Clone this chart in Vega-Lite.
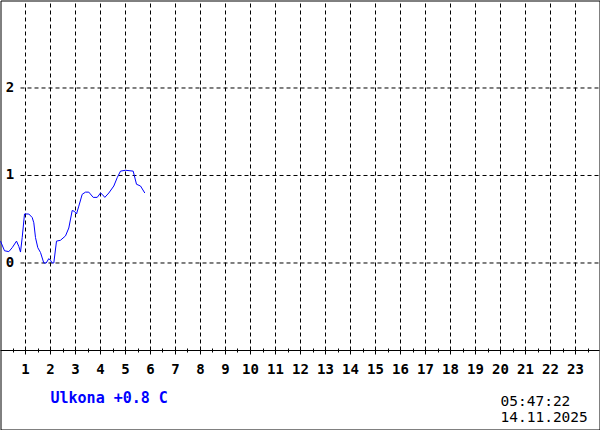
{
  "$schema": "https://vega.github.io/schema/vega-lite/v6.json",
  "width": 599,
  "height": 429,
  "autosize": {"type": "none"},
  "padding": {"left": 0.5, "top": 0.5, "right": 0.5, "bottom": 0.5},
  "background": "white",
  "config": {
    "view": {"stroke": "black", "strokeWidth": 1},
    "axis": {"translate": 0},
    "font": "DejaVu Sans Mono"
  },
  "datasets": {
    "temp": [
      {"h": 0, "v": 0.25}, {"h": 0.16, "v": 0.14}, {"h": 0.332, "v": 0.13}, {"h": 0.468, "v": 0.175},
      {"h": 0.64, "v": 0.25}, {"h": 0.732, "v": 0.19}, {"h": 0.8, "v": 0.125}, {"h": 0.868, "v": 0.29},
      {"h": 0.96, "v": 0.56}, {"h": 1.132, "v": 0.56}, {"h": 1.268, "v": 0.52}, {"h": 1.332, "v": 0.46},
      {"h": 1.4, "v": 0.29}, {"h": 1.492, "v": 0.175}, {"h": 1.6, "v": 0.12}, {"h": 1.732, "v": 0.0},
      {"h": 1.828, "v": 0.0}, {"h": 1.932, "v": 0.05}, {"h": 2.0, "v": 0.03}, {"h": 2.068, "v": 0.0},
      {"h": 2.132, "v": 0.0}, {"h": 2.24, "v": 0.25}, {"h": 2.4, "v": 0.26}, {"h": 2.6, "v": 0.31},
      {"h": 2.732, "v": 0.4}, {"h": 2.868, "v": 0.6}, {"h": 2.96, "v": 0.59}, {"h": 3.04, "v": 0.56},
      {"h": 3.132, "v": 0.65}, {"h": 3.268, "v": 0.785}, {"h": 3.4, "v": 0.81}, {"h": 3.532, "v": 0.81},
      {"h": 3.708, "v": 0.75}, {"h": 3.868, "v": 0.75}, {"h": 4.0, "v": 0.8}, {"h": 4.068, "v": 0.785},
      {"h": 4.172, "v": 0.75}, {"h": 4.332, "v": 0.8}, {"h": 4.532, "v": 0.88}, {"h": 4.668, "v": 0.975},
      {"h": 4.8, "v": 1.05}, {"h": 5.0, "v": 1.06}, {"h": 5.308, "v": 1.05}, {"h": 5.44, "v": 0.9},
      {"h": 5.6, "v": 0.88}, {"h": 5.772, "v": 0.8}
    ],
    "hgrid": [{"v": 0}, {"v": 1}, {"v": 2}],
    "vgrid": [
      {"h": 1}, {"h": 2}, {"h": 3}, {"h": 4}, {"h": 5}, {"h": 6}, {"h": 7}, {"h": 8},
      {"h": 9}, {"h": 10}, {"h": 11}, {"h": 12}, {"h": 13}, {"h": 14}, {"h": 15}, {"h": 16},
      {"h": 17}, {"h": 18}, {"h": 19}, {"h": 20}, {"h": 21}, {"h": 22}, {"h": 23}
    ],
    "one": [{}]
  },
  "resolve": {"axis": {"x": "independent"}},
  "layer": [
    {
      "data": {"name": "hgrid"},
      "mark": {"type": "rule", "color": "black", "strokeWidth": 1, "strokeDash": [4, 3]},
      "encoding": {
        "y": {
          "field": "v", "type": "quantitative",
          "scale": {"domain": [-1.90286, 3], "nice": false, "zero": false},
          "axis": null
        },
        "x": {
          "datum": 0.8, "type": "quantitative",
          "scale": {"domain": [0, 23.96], "nice": false, "zero": false},
          "axis": {
            "orient": "bottom", "offset": -79,
            "values": [0.5, 1, 1.5, 2, 2.5, 3, 3.5, 4, 4.5, 5, 5.5, 6, 6.5, 7, 7.5, 8, 8.5, 9, 9.5, 10, 10.5, 11, 11.5, 12, 12.5, 13, 13.5, 14, 14.5, 15, 15.5, 16, 16.5, 17, 17.5, 18, 18.5, 19, 19.5, 20, 20.5, 21, 21.5, 22, 22.5, 23, 23.5],
            "grid": false, "domain": true, "domainColor": "black", "domainWidth": 1,
            "ticks": true, "tickColor": "black", "tickWidth": 1,
            "tickSize": {"condition": {"test": "datum.value % 1 === 0", "value": 4}, "value": 2},
            "labelExpr": "datum.value % 1 === 0 ? format(datum.value, 'd') : ''",
            "labelFont": "DejaVu Sans Mono", "labelFontSize": 14, "labelFontWeight": "bold", "labelColor": "black",
            "labelPadding": 8, "labelOverlap": false, "labelFlush": false, "labelBound": false,
            "title": null
          }
        },
        "x2": {"datum": 23.96}
      }
    },
    {
      "data": {"name": "hgrid"},
      "mark": {"type": "text", "font": "DejaVu Sans Mono", "fontSize": 14, "fontWeight": "bold", "color": "black", "align": "center", "baseline": "middle"},
      "encoding": {
        "y": {"field": "v", "type": "quantitative", "scale": {"domain": [-1.90286, 3], "nice": false, "zero": false}, "axis": null},
        "x": {"datum": 0.38, "type": "quantitative", "scale": {"domain": [0, 23.96], "nice": false, "zero": false}, "axis": null},
        "text": {"field": "v", "type": "quantitative", "format": "d"}
      }
    },
    {
      "data": {"name": "vgrid"},
      "mark": {"type": "rule", "color": "black", "strokeWidth": 1, "strokeDash": [4, 3]},
      "encoding": {
        "x": {
          "field": "h", "type": "quantitative",
          "scale": {"domain": [0, 23.96], "nice": false, "zero": false},
          "axis": {
            "orient": "top", "offset": -350,
            "values": [0.5, 1, 1.5, 2, 2.5, 3, 3.5, 4, 4.5, 5, 5.5, 6, 6.5, 7, 7.5, 8, 8.5, 9, 9.5, 10, 10.5, 11, 11.5, 12, 12.5, 13, 13.5, 14, 14.5, 15, 15.5, 16, 16.5, 17, 17.5, 18, 18.5, 19, 19.5, 20, 20.5, 21, 21.5, 22, 22.5, 23, 23.5],
            "grid": false, "domain": false, "labels": false,
            "ticks": true, "tickColor": "black", "tickWidth": 1,
            "tickSize": {"condition": {"test": "datum.value % 1 === 0", "value": 3}, "value": 2},
            "title": null
          }
        },
        "y": {"datum": -1, "type": "quantitative", "scale": {"domain": [-1.90286, 3], "nice": false, "zero": false}, "axis": null},
        "y2": {"datum": 3}
      }
    },
    {
      "data": {"name": "temp"},
      "mark": {"type": "line", "color": "#0000ff", "strokeWidth": 1},
      "encoding": {
        "x": {"field": "h", "type": "quantitative", "scale": {"domain": [0, 23.96], "nice": false, "zero": false}, "axis": null},
        "y": {"field": "v", "type": "quantitative", "scale": {"domain": [-1.90286, 3], "nice": false, "zero": false}, "axis": null}
      }
    },
    {
      "data": {"name": "one"},
      "mark": {"type": "text", "font": "DejaVu Sans Mono", "fontSize": 15, "fontWeight": "bold", "color": "#0000ff", "align": "left", "baseline": "middle"},
      "encoding": {
        "x": {"datum": 2.0, "type": "quantitative", "scale": {"domain": [0, 23.96], "nice": false, "zero": false}, "axis": null},
        "y": {"datum": -1.543, "type": "quantitative", "scale": {"domain": [-1.90286, 3], "nice": false, "zero": false}, "axis": null},
        "text": {"value": "Ulkona +0.8 C"}
      }
    },
    {
      "data": {"name": "one"},
      "mark": {"type": "text", "font": "DejaVu Sans Mono", "fontSize": 14.5, "color": "black", "align": "left", "baseline": "middle"},
      "encoding": {
        "x": {"datum": 20.0, "type": "quantitative", "scale": {"domain": [0, 23.96], "nice": false, "zero": false}, "axis": null},
        "y": {"datum": -1.589, "type": "quantitative", "scale": {"domain": [-1.90286, 3], "nice": false, "zero": false}, "axis": null},
        "text": {"value": "05:47:22"}
      }
    },
    {
      "data": {"name": "one"},
      "mark": {"type": "text", "font": "DejaVu Sans Mono", "fontSize": 14.5, "color": "black", "align": "left", "baseline": "middle"},
      "encoding": {
        "x": {"datum": 20.0, "type": "quantitative", "scale": {"domain": [0, 23.96], "nice": false, "zero": false}, "axis": null},
        "y": {"datum": -1.768, "type": "quantitative", "scale": {"domain": [-1.90286, 3], "nice": false, "zero": false}, "axis": null},
        "text": {"value": "14.11.2025"}
      }
    }
  ]
}
